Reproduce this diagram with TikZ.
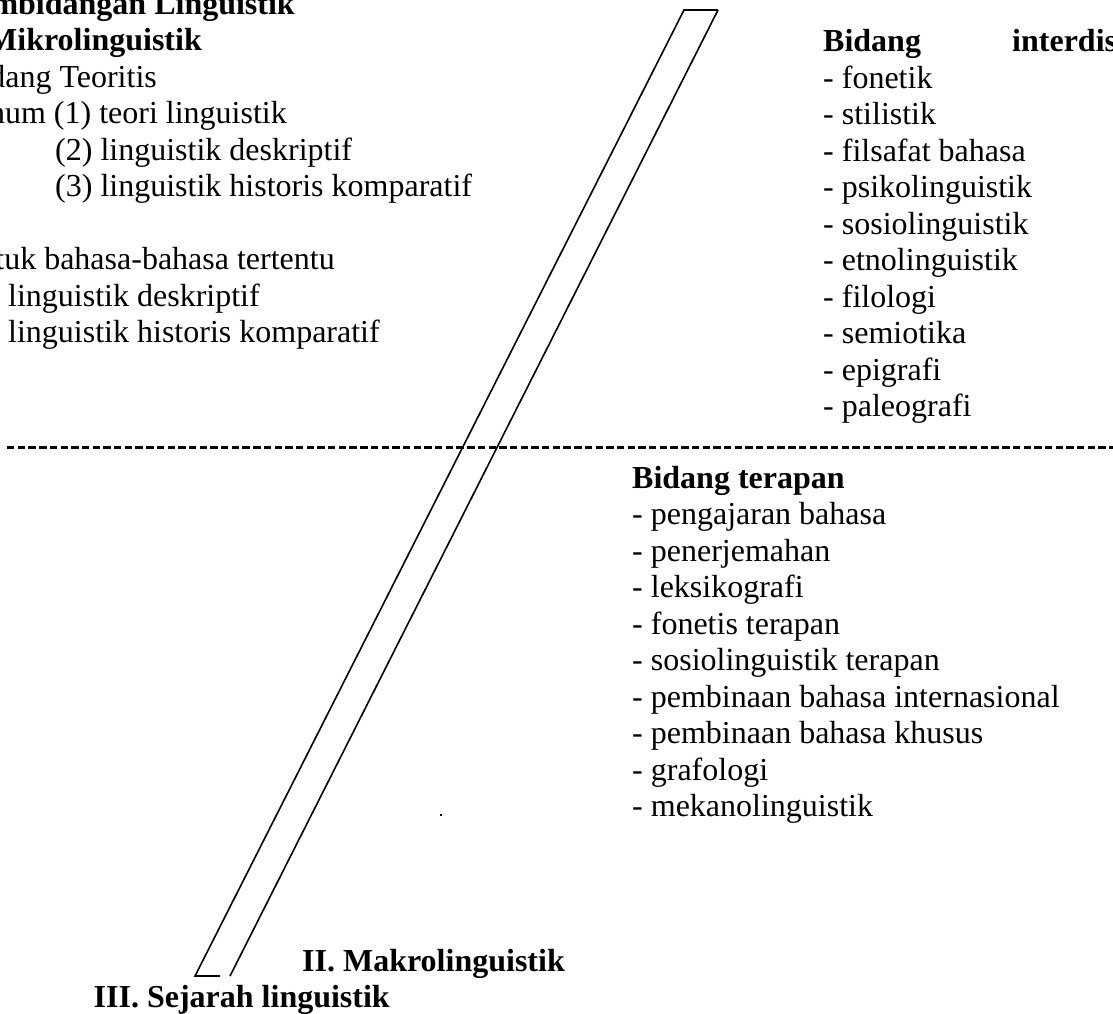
\documentclass[tikz,border=0pt]{standalone}
\usepackage{fontspec}
\setmainfont{Liberation Serif}
\begin{document}
\begin{tikzpicture}[x=1pt,y=-1pt,
    item/.style={anchor=base west,inner sep=0pt,font=\fontsize{32}{36.5}\selectfont},
    itemcut/.style={item,anchor=base east},
    title/.style={item,font=\fontsize{32}{36.5}\selectfont\bfseries},
    titlecut/.style={title,anchor=base east},
    bar/.style={line width=1.6pt,line join=miter}]
    % Page frame (text is cut off at the edges)
    \useasboundingbox (0,0) rectangle (1113,1013);
    \clip (0,0) rectangle (1113,1013);

    % Left column: Mikrolinguistik
    \node[titlecut] (judul) at (295,14) {mbidangan Linguistik};
    \node[titlecut] (mikro) at (202,50.5) {Mikrolinguistik};
    \node[itemcut] (teori) at (157,87) {dang Teoritis};
    \node[itemcut] (umumA) at (287,123.5) {num (1) teori linguistik};
    \node[item] (umumB) at (55,160) {(2) linguistik deskriptif};
    \node[item] (umumC) at (55,196.5) {(3) linguistik historis komparatif};
    \node[itemcut] (tentu) at (335,269.5) {tuk bahasa-bahasa tertentu};
    \node[item] (tentuA) at (8,306) {linguistik deskriptif};
    \node[item] (tentuB) at (8,342.5) {linguistik historis komparatif};

    % Right column: Bidang interdisipliner
    \node[title] (inter) at (823,51.5) {Bidang};
    \node[title] (interB) at (1012,51.5) {interdis};
    \node[item] (fonetik) at (823,88) {- fonetik};
    \node[item] (stilistik) at (823,124.5) {- stilistik};
    \node[item] (filsafat) at (823,161) {- filsafat bahasa};
    \node[item] (psiko) at (823,197.5) {- psikolinguistik};
    \node[item] (sosio) at (823,234) {- sosiolinguistik};
    \node[item] (etno) at (823,270.5) {- etnolinguistik};
    \node[item] (filologi) at (823,307) {- filologi};
    \node[item] (semiotika) at (823,343.5) {- semiotika};
    \node[item] (epigrafi) at (823,380) {- epigrafi};
    \node[item] (paleografi) at (823,416.5) {- paleografi};

    % Divider
    \coordinate (divL) at (7,447);
    \coordinate (divR) at (1113,447);
    \draw[line width=3pt,dash pattern=on 7.4pt off 3.3pt] (divL) -- (divR);

    % Bidang terapan
    \node[title] (terapan) at (632,488) {Bidang terapan};
    \node[item] (ajar) at (632,524.5) {- pengajaran bahasa};
    \node[item] (terjemah) at (632,561) {- penerjemahan};
    \node[item] (leksiko) at (632,597.5) {- leksikografi};
    \node[item] (fonetis) at (632,634) {- fonetis terapan};
    \node[item] (sosioT) at (632,670.5) {- sosiolinguistik terapan};
    \node[item] (bina) at (632,707) {- pembinaan bahasa internasional};
    \node[item] (khusus) at (632,743.5) {- pembinaan bahasa khusus};
    \node[item] (grafologi) at (632,780) {- grafologi};
    \node[item] (mekano) at (632,816.5) {- mekanolinguistik};
    \fill (440,814) rectangle (442,816);

    % Slanted bar
    \coordinate (topL) at (684,10);
    \coordinate (topR) at (718,10);
    \coordinate (botL) at (195,976);
    \coordinate (botM) at (220,976);
    \coordinate (botR) at (230,976);
    \draw[bar] (topR) -- (topL) -- (botL) -- (botM);
    \draw[bar] (topR) -- (botR);

    % Bottom labels
    \node[title] (makro) at (302,971) {II. Makrolinguistik};
    \node[titlecut] (sejarah) at (390,1007) {III. Sejarah linguistik};
\end{tikzpicture}
\end{document}
